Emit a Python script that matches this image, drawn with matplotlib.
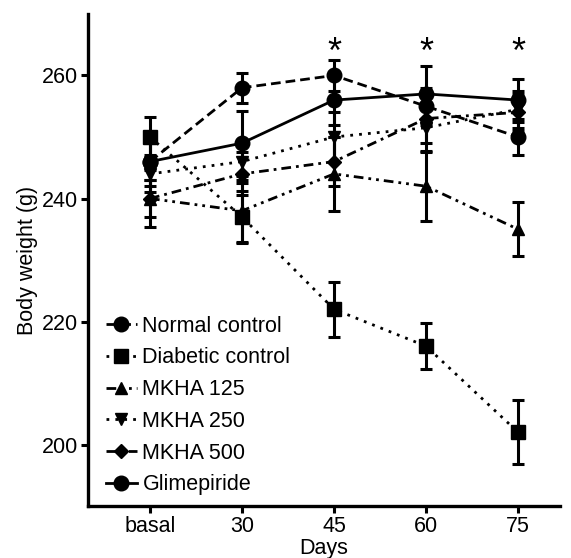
import matplotlib.pyplot as plt
import numpy as np

plt.rcParams["font.family"] = ["Liberation Sans", "DejaVu Sans"]

days = ["basal", "30", "45", "60", "75"]

normal = [246, 258, 260, 255, 250]
normal_err = [3, 2.4, 2.5, 3, 3]
diabetic = [250, 237, 222, 216, 202]
diabetic_err = [3.3, 4.3, 4.5, 3.7, 5.2]
mkha125 = [240, 238, 244, 242, 235]
mkha125_err = [4.6, 5, 6, 5.7, 4.4]
mkha250 = [244, 246, 250, 251.5, 254.5]
mkha250_err = [3, 3.5, 4, 4, 3]
mkha500 = [240, 244, 246, 253, 254]
mkha500_err = [3, 3.5, 4, 4, 3]
glimepiride = [246, 249, 256, 257, 256]
glimepiride_err = [4, 5.3, 4, 4.6, 3.5]

stars_at = [2, 3, 4]
star_y = 263.5

x = np.arange(len(days))

fig = plt.figure(figsize=(5.71, 5.58), dpi=100)
ax = fig.add_axes([0.154, 0.093, 0.827, 0.882])

series = [
    ("Normal control", normal, normal_err, "o", (0, (3.5, 1.8))),
    ("Diabetic control", diabetic, diabetic_err, "s", (0, (1, 2.2))),
    ("MKHA 125", mkha125, mkha125_err, "^", (0, (3.5, 1.8, 1, 1.8, 1, 1.8))),
    ("MKHA 250", mkha250, mkha250_err, "v", (0, (1, 2.2))),
    ("MKHA 500", mkha500, mkha500_err, "D", (0, (3.5, 1.8, 1, 1.8))),
    ("Glimepiride", glimepiride, glimepiride_err, "o", "-"),
]

for name, vals, err, mk, ls in series:
    ms = 10.5
    if mk == "D":
        ms = 7.5
    elif mk in ("^", "v"):
        ms = 9
    elif mk == "s":
        ms = 9.5
    ax.errorbar(x, vals, yerr=err, color="black", marker=mk, markersize=ms,
                linestyle=ls, linewidth=2, elinewidth=2.2, capsize=4.5,
                capthick=2.2, label=name)

for i in stars_at:
    ax.text(x[i], star_y, "*", ha="center", va="center", fontsize=26)

ax.set_xlim(-0.674, 4.457)
ax.set_ylim(190, 270)
ax.set_xticks(x)
ax.set_xticklabels(days)
ax.set_yticks([200, 220, 240, 260])
ax.set_xlabel("Days", fontsize=15.5, labelpad=1)
ax.set_ylabel("Body weight (g)", fontsize=15.5, labelpad=3)
ax.tick_params(labelsize=15.5, width=2.2, length=5, pad=2)
for side in ["top", "right"]:
    ax.spines[side].set_visible(False)
for side in ["left", "bottom"]:
    ax.spines[side].set_linewidth(2.4)

handles, labels = ax.get_legend_handles_labels()
handles = [h[0] for h in handles]
ax.legend(handles, labels, loc="lower left", frameon=False, fontsize=15.5,
          handlelength=1.45, handletextpad=0.25, labelspacing=0.5,
          borderaxespad=0.1, bbox_to_anchor=(0.015, 0.0))

fig.savefig("out.png", dpi=100)
